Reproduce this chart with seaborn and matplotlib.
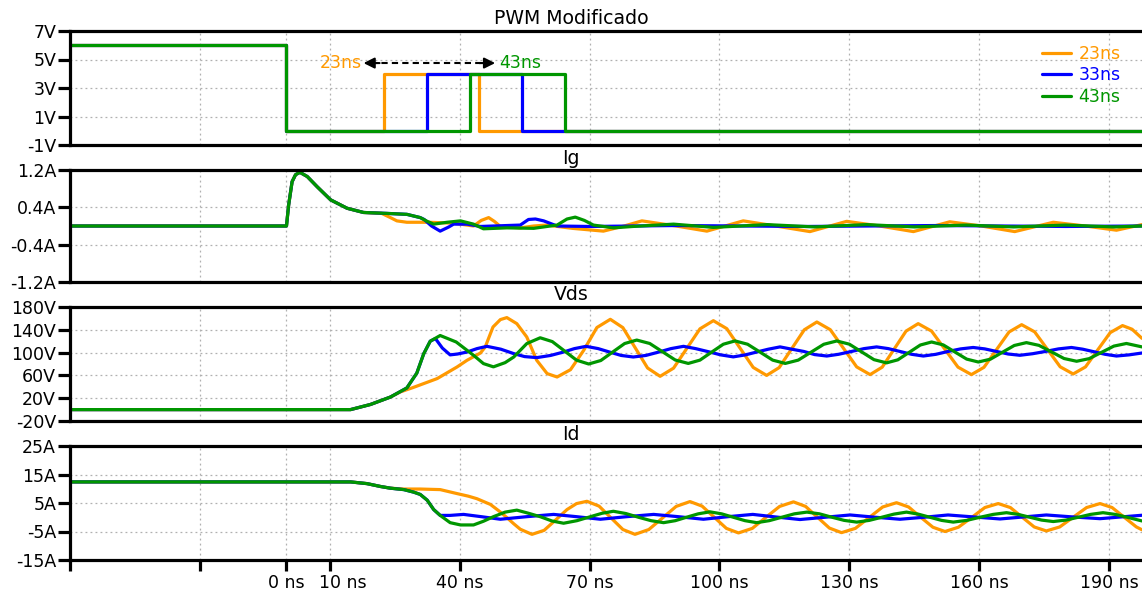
import matplotlib
matplotlib.use("Agg")
import matplotlib.pyplot as plt
import matplotlib.transforms as mtransforms
import seaborn as sns
import pandas as pd

# ---------------- data ----------------
series_names = ["23ns", "33ns", "43ns"]
series_colors = ["#ff9900", "#0000ff", "#009600"]

panel_titles = ["PWM Modificado", "Ig", "Vds", "Id"]

x_ticks = [-50, -20, 0, 10, 40, 70, 100, 130, 160, 190]
x_tick_labels = ["", "", "0 ns", "10 ns", "40 ns", "70 ns", "100 ns", "130 ns", "160 ns", "190 ns"]

pwm_ticks = [-1, 1, 3, 5, 7]
pwm_labels = ["-1V", "1V", "3V", "5V", "7V"]
ig_ticks = [-1.2, -0.4, 0.4, 1.2]
ig_labels = ["-1.2A", "-0.4A", "0.4A", "1.2A"]
vds_ticks = [-20, 20, 60, 100, 140, 180]
vds_labels = ["-20V", "20V", "60V", "100V", "140V", "180V"]
id_ticks = [-15, -5, 5, 15, 25]
id_labels = ["-15A", "-5A", "5A", "15A", "25A"]

# PWM gate signals (time ns, volts)
pwm_23 = [(-50, 6), (0, 6), (0, 0), (22.6, 0), (22.6, 3.95), (44.5, 3.95), (44.5, 0), (197.6, 0)]
pwm_33 = [(-50, 6), (0, 6), (0, 0), (32.5, 0), (32.5, 3.95), (54.5, 3.95), (54.5, 0), (197.6, 0)]
pwm_43 = [(-50, 6), (0, 6), (0, 0), (42.5, 0), (42.5, 3.95), (64.4, 3.95), (64.4, 0), (197.6, 0)]

# Gate current Ig (ns, A)
ig_23 = [(-50, 0), (0, 0), (0.5, 0.45), (1.3, 0.95), (2.1, 1.1), (3.1, 1.15), (4.8, 1.06), (7.1, 0.84),
         (10.2, 0.56), (14, 0.38), (17.8, 0.29), (22, 0.27), (24, 0.18), (25.5, 0.11), (27.8, 0.08),
         (33, 0.08), (38.6, 0.06), (43.2, 0.0), (45, 0.12), (46.7, 0.18), (48, 0.1), (49.4, -0.01),
         (54, -0.04), (57.1, 0.0), (60.1, 0.02), (66, -0.05), (73.2, -0.11), (78, 0.0), (82.1, 0.11),
         (90, 0.0), (97.1, -0.11), (105.5, 0.11), (113, 0.0), (120.9, -0.12), (129.4, 0.1), (137, 0.0),
         (144.8, -0.12), (153.2, 0.09), (160.5, 0.0), (168.2, -0.12), (177.1, 0.08), (184.5, 0.0),
         (191.7, -0.09), (197.6, 0.03)]
ig_33 = [(-50, 0), (0, 0), (0.5, 0.45), (1.3, 0.95), (2.1, 1.1), (3.1, 1.15), (4.8, 1.06), (7.1, 0.84),
         (10.2, 0.56), (14, 0.38), (17.8, 0.29), (23.2, 0.27), (27.8, 0.25), (30.9, 0.18), (31.8, 0.14),
         (33.5, 0.0), (35.5, -0.11), (37.5, -0.02), (38.6, 0.04), (41.7, 0.04), (44.8, -0.01), (54, 0.02),
         (55.9, 0.14), (57.5, 0.15), (59.4, 0.11), (62.5, 0.0), (70, -0.01), (90, 0.01), (120, -0.01),
         (150, 0.01), (180, -0.01), (197.6, 0.0)]
ig_43 = [(-50, 0), (0, 0), (0.5, 0.45), (1.3, 0.95), (2.1, 1.1), (3.1, 1.15), (4.8, 1.06), (7.1, 0.84),
         (10.2, 0.56), (14, 0.38), (17.8, 0.29), (23.2, 0.27), (27.8, 0.25), (30.9, 0.18), (32.5, 0.1),
         (34, 0.04), (37.1, 0.08), (40.2, 0.11), (43.2, 0.04), (45.5, -0.06), (50.9, -0.04), (57.1, -0.05),
         (62.5, 0.02), (64.8, 0.15), (66.7, 0.19), (68.8, 0.12), (70.9, 0.02), (75.5, -0.04), (80, -0.01),
         (89.4, 0.04), (98.6, -0.03), (111, 0.03), (122, -0.02), (134, 0.03), (145, -0.02), (157, 0.02),
         (168, -0.02), (180, 0.02), (191, -0.02), (197.6, 0.0)]

# Drain-source voltage Vds (ns, V)
vds_23 = [(-50, 0), (14.8, 0), (19.4, 9), (24, 22), (26.3, 31), (29.2, 38.6), (34.8, 54.4), (39.4, 74.8),
          (41.7, 86.5), (44.8, 99.3), (45.9, 109.8), (47.7, 144.9), (49.4, 157.9), (50.9, 161.4),
          (53.2, 150.8), (55.5, 127.4), (57.8, 86.5), (60.2, 63.2), (62.5, 57.2), (65.6, 70), (68.65, 104),
          (71.7, 144), (74.8, 158.4), (77.7, 143.8), (80.55, 108.4), (83.4, 73), (86.3, 58.4), (89.4, 72.7),
          (92.45, 107.2), (95.5, 141.7), (98.6, 156), (101.7, 142), (104.75, 108), (107.8, 74), (110.9, 60),
          (113.8, 73.7), (116.7, 106.9), (119.6, 140), (122.5, 153.7), (125.6, 140.2), (128.65, 107.6),
          (131.7, 74.9), (134.8, 61.4), (137.6, 74.5), (140.35, 106.1), (143.1, 137.7), (145.9, 150.8),
          (149, 137.7), (152.05, 106.1), (155.1, 74.5), (158.2, 61.4), (161.1, 74.2), (164, 105.2),
          (166.9, 136.2), (169.8, 149), (172.8, 136.4), (175.75, 105.8), (178.7, 75.1), (181.7, 62.5),
          (184.55, 74.9), (187.4, 105), (190.25, 135), (193.1, 147.4), (195.3, 141), (197.6, 125)]
vds_33 = [(-50, 0), (14.8, 0), (19.4, 9), (24, 22), (27.8, 38), (30.1, 64), (31.7, 98), (33.2, 120),
          (34.4, 124.6), (36, 108), (37.8, 96), (39.5, 97.5), (41.7, 101), (44, 107), (46.3, 111),
          (49.5, 106), (52.5, 98.2), (55, 93), (57.8, 91.2), (61, 95), (64, 101), (66.5, 107), (69.2, 111),
          (72, 107), (74.6, 101), (77.3, 95), (80.1, 92.3), (83, 95), (86, 101), (88.8, 107), (91.7, 111),
          (94.5, 107), (97.5, 101.5), (100.3, 96), (103.2, 92.5), (106, 96), (108.6, 101), (111.3, 106),
          (114, 110), (116.7, 106), (119.5, 102), (122, 96.5), (124.8, 94), (127.5, 97), (130.5, 102),
          (133.4, 107), (136.3, 110), (139, 107), (141.7, 102), (144.4, 97), (147.1, 94), (150, 97),
          (152.8, 102), (155.7, 106.5), (158.6, 109), (161.3, 106.5), (164, 102), (166.7, 97.5),
          (169.4, 95.3), (172.3, 98), (175.3, 102), (178.3, 106.5), (181.3, 109), (183.9, 106),
          (186.5, 101.5), (189.1, 97), (191.7, 94), (194.6, 96), (197.6, 99.3)]
vds_43 = [(-50, 0), (14.8, 0), (19.4, 9), (24, 22), (27.8, 38), (30.1, 64), (31.7, 98), (33.2, 120),
          (35.5, 130), (39.2, 118.6), (43.2, 95.3), (45.5, 80.7), (47.8, 75), (50.5, 82.4), (52.5, 92.3),
          (55.5, 115.8), (58.6, 126), (61.4, 119.3), (64.2, 103), (67.0, 86.7), (69.8, 80), (72.6, 86.1),
          (75.35, 101), (78.1, 115.9), (80.9, 122), (83.9, 116), (86.85, 101.5), (89.8, 87), (92.8, 81),
          (95.5, 86.8), (98.2, 100.8), (100.9, 114.7), (103.6, 120.5), (106.5, 114.7), (109.4, 100.8),
          (112.3, 86.8), (115.2, 81), (118.2, 86.8), (121.15, 100.7), (124.1, 114.6), (127.1, 120.4),
          (130, 114.8), (132.85, 101.2), (135.7, 87.6), (138.6, 82), (141.2, 87.3), (143.8, 100.3),
          (146.4, 113.3), (149, 118.6), (151.7, 113.5), (154.4, 101), (157.1, 88.6), (159.8, 83.5),
          (162.6, 88.5), (165.35, 100.5), (168.1, 112.5), (170.9, 117.5), (173.8, 112.7), (176.7, 101.2),
          (179.6, 89.6), (182.5, 84.8), (185.4, 89.4), (188.25, 100.4), (191.1, 111.4), (194, 116),
          (197.6, 110)]

# Drain current Id (ns, A)
id_23 = [(-50, 12.4), (14.8, 12.4), (18.6, 11.8), (21.7, 10.8), (24, 10.2), (27.1, 9.9), (30.9, 9.9),
         (35.5, 9.7), (39.4, 8.3), (42, 7.4), (44, 6.5), (47.1, 4.5), (49, 2.3), (50.9, -0.1), (52.5, -2.3),
         (54, -4.2), (56.7, -6.0), (59.5, -4.6), (62, -1.2), (64.8, 2.7), (67, 4.8), (69.4, 5.6), (72.2, 3.9),
         (74.95, -0.2), (77.7, -4.3), (80.5, -6.0), (83.7, -4.3), (86.85, -0.25), (90, 3.8), (93.2, 5.5),
         (96, 3.9), (98.8, 0), (101.6, -3.9), (104.4, -5.5), (107.6, -3.9), (110.75, 0), (113.9, 3.8),
         (117.1, 5.4), (119.9, 3.8), (122.65, 0), (125.4, -3.8), (128.2, -5.4), (131.4, -3.9),
         (134.55, -0.15), (137.7, 3.6), (140.9, 5.1), (143.7, 3.6), (146.5, 0), (149.3, -3.5), (152.1, -5.0),
         (155.2, -3.5), (158.25, -0.1), (161.3, 3.4), (164.4, 4.8), (167.2, 3.4), (169.95, 0), (172.7, -3.4),
         (175.5, -4.8), (178.6, -3.4), (181.7, 0), (184.8, 3.4), (187.9, 4.8), (190.7, 3.4), (193.5, 0),
         (196.3, -3.4), (197.6, -4.4)]
id_33 = [(-50, 12.4), (14.8, 12.4), (18.6, 11.8), (21.7, 10.8), (24, 10.2), (27.1, 9.7), (29.4, 8.8),
         (30.9, 8.0), (32.5, 6.0), (34, 2.7), (35.5, 0.65), (37.8, 0.65), (40.9, 1.0), (45, 0.2), (49.4, -0.7),
         (55.5, 0.2), (61.7, 1.0), (67, 0.2), (72.5, -0.7), (78.6, 0.2), (84.8, 1.0), (90.5, 0.2),
         (96.3, -0.7), (102, 0.2), (107.7, 1.0), (113, 0.1), (118.6, -0.8), (124.4, 0), (130.2, 0.8),
         (136, 0), (141.7, -0.7), (147.3, 0), (152.8, 0.8), (158.8, 0.1), (164.8, -0.6), (170.2, 0.1),
         (175.5, 0.8), (181.7, 0.1), (187.9, -0.5), (192.7, 0.1), (197.6, 0.7)]
id_43 = [(-50, 12.4), (14.8, 12.4), (18.6, 11.8), (21.7, 10.8), (24, 10.2), (27.1, 9.7), (29.4, 8.8),
         (30.9, 8.0), (32.5, 6.0), (34, 2.7), (35.5, 0.65), (37.8, -1.9), (40.2, -2.7), (43.2, -2.7),
         (45.5, -1.4), (47.8, 0.2), (50.5, 1.8), (53.2, 2.5), (55.9, 1.4), (58.6, 0.2), (61.3, -1.3),
         (64, -2.1), (67.1, -1.2), (70.2, 0.2), (72.9, 1.4), (75.5, 2.1), (78.4, 1.3), (81.3, 0),
         (84.2, -1.2), (87.1, -1.9), (89.8, -1.2), (92.4, 0), (95.1, 1.2), (97.8, 1.9), (100.5, 1.2),
         (103.2, 0), (105.9, -1.2), (108.6, -1.9), (111.5, -1.2), (114.4, 0), (117.3, 1.2), (120.2, 1.8),
         (123.1, 1.2), (126, 0), (128.8, -1.1), (131.7, -1.7), (134.6, -1.1), (137.5, 0), (140.3, 1.1),
         (143.2, 1.8), (145.9, 1.1), (148.6, 0), (151.3, -1.1), (154, -1.7), (157.1, -1.1), (160.2, 0),
         (163.2, 1.0), (166.3, 1.6), (169, 1.0), (171.7, 0), (174.4, -1.0), (177.1, -1.5), (180, -1.0),
         (182.9, 0), (185.7, 1.0), (188.6, 1.6), (191.4, 1.0), (194.2, 0), (197.6, -1.3)]

panel_data = [
    [pwm_23, pwm_33, pwm_43],
    [ig_23, ig_33, ig_43],
    [vds_23, vds_33, vds_43],
    [id_23, id_33, id_43],
]
panel_ticks = [(pwm_ticks, pwm_labels), (ig_ticks, ig_labels), (vds_ticks, vds_labels), (id_ticks, id_labels)]

# ---------------- figure ----------------
sns.set_theme(style="white")
plt.rcParams["font.family"] = ["DejaVu Sans"]

W, H = 1142, 597
fig = plt.figure(figsize=(W / 100, H / 100), dpi=100)

# panel (top, bottom) in pixels
panel_px = [(31, 145), (170, 282), (307, 421), (446, 560)]
left_px = 70
FS = 12.5
TITLE_FS = 13.6

axes = []
for i, (top, bot) in enumerate(panel_px):
    ax = fig.add_axes([left_px / W, 1 - bot / H, (W - left_px) / W, (bot - top) / H])
    axes.append(ax)
    ticks, labels = panel_ticks[i]
    for name, color, series in zip(series_names, series_colors, panel_data[i]):
        df = pd.DataFrame(series, columns=["t", "v"])
        sns.lineplot(data=df, x="t", y="v", ax=ax, color=color, lw=2.3, sort=False,
                     estimator=None, label=name if i == 0 else None, legend=False)
    ax.set_xlim(-50, 197.6)
    ax.set_ylim(ticks[0], ticks[-1])
    ax.set_yticks(ticks)
    ax.set_yticklabels(labels)
    ax.set_xticks(x_ticks)
    ax.set_xlabel("")
    ax.set_ylabel("")
    ax.grid(True, color="#b0b0b0", lw=0.9, ls=(0, (1.5, 2.5)))
    ax.set_axisbelow(True)
    for s in ["top", "bottom", "left"]:
        ax.spines[s].set_visible(True)
        ax.spines[s].set_color("black")
        ax.spines[s].set_linewidth(2.3)
    ax.spines["right"].set_visible(False)
    ax.tick_params(axis="y", left=True, direction="out", length=9, width=2.3, pad=1,
                   labelsize=FS, colors="black")
    if i < 3:
        ax.tick_params(axis="x", bottom=False, labelbottom=False)
    else:
        ax.set_xticklabels(x_tick_labels)
        ax.tick_params(axis="x", bottom=True, direction="out", length=8, width=2.3, pad=2,
                       labelsize=FS, colors="black")
        # the "10 ns" label sits a bit to the right of its tick, as in the reference
        lab10 = ax.get_xticklabels()[3]
        lab10.set_transform(lab10.get_transform() +
                            mtransforms.ScaledTranslation(13 / 100, 0, fig.dpi_scale_trans))
    fig.text(0.5, 1 - (top - 12) / H, panel_titles[i], ha="center", va="center",
             fontsize=TITLE_FS, color="black")

# PWM panel annotation and legend
ax0 = axes[0]
ax0.plot([19.5, 46.5], [4.75, 4.75], color="black", lw=1.5, ls=(0, (3, 2)))
ax0.annotate("", xy=(17.8, 4.75), xytext=(21.5, 4.75),
             arrowprops=dict(arrowstyle="-|>", color="black", lw=1.5, mutation_scale=16,
                             shrinkA=0, shrinkB=0))
ax0.annotate("", xy=(48.2, 4.75), xytext=(44.5, 4.75),
             arrowprops=dict(arrowstyle="-|>", color="black", lw=1.5, mutation_scale=16,
                             shrinkA=0, shrinkB=0))
ax0.text(17.3, 4.75, "23ns", color=series_colors[0], ha="right", va="center", fontsize=FS)
ax0.text(49.2, 4.75, "43ns", color=series_colors[2], ha="left", va="center", fontsize=FS)

handles, labels = ax0.get_legend_handles_labels()
ax0.legend(handles, labels, loc="upper right", bbox_to_anchor=(0.980, 0.877), frameon=False,
           labelcolor="linecolor", fontsize=FS, handlelength=1.7, handletextpad=0.4,
           labelspacing=0.19, borderpad=0, borderaxespad=0)

fig.savefig("out.png", dpi=100)
